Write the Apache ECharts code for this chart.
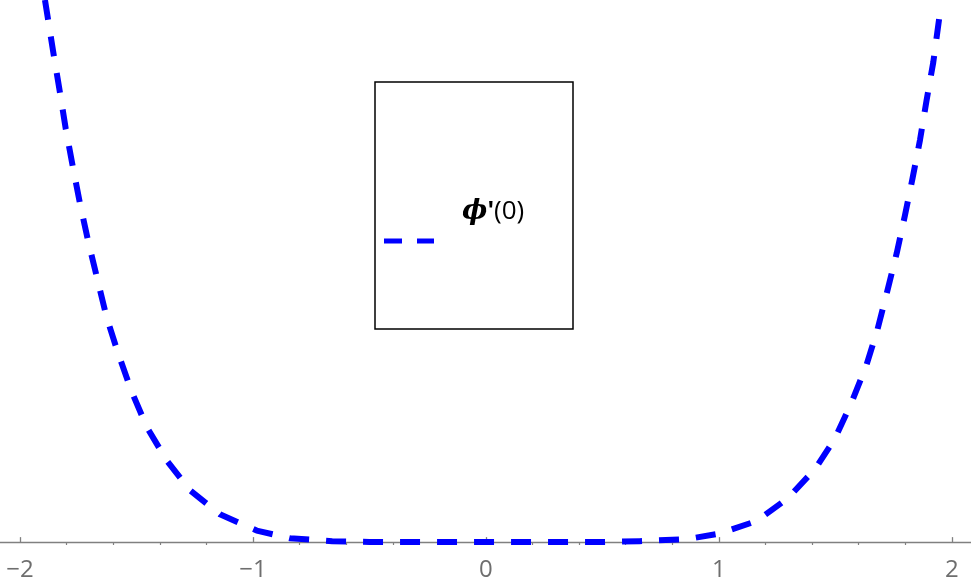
<!DOCTYPE html>
<html>
<head>
<meta charset="utf-8">
<script src="https://cdn.jsdelivr.net/npm/echarts@6/dist/echarts.min.js"></script>
<style>
html,body{margin:0;padding:0;background:#fff;}
#chart{width:971px;height:583px;}
</style>
</head>
<body>
<div id="chart"></div>
<script>
// x positions and values
const xValues = [-1.893, -1.857, -1.831, -1.804, -1.774, -1.742, -1.707, -1.668, -1.628, -1.578,
  -1.521, -1.456, -1.370, -1.270, -1.142, -0.984, -0.841, -0.66, -0.5, 0,
  0.5, 0.66, 0.861, 1.004, 1.162, 1.297, 1.412, 1.498, 1.570, 1.634,
  1.681, 1.722, 1.763, 1.798, 1.831, 1.863, 1.891, 1.920, 1.950];
const yValues = [56.5, 51.0, 47.2, 43.1, 39.2, 35.2, 31.3, 27.4, 23.4, 19.6,
  15.7, 12.0, 8.5, 5.4, 2.9, 1.2, 0.4, 0.1, 0.02, 0,
  0.02, 0.1, 0.3, 0.9, 2.2, 4.6, 7.6, 10.8, 14.6, 18.5,
  22.2, 26.1, 30.1, 34.0, 37.9, 41.9, 46.0, 50.0, 55.4];
const majorTicks = [-2, -1, 0, 1, 2];
const minorTicks = [-1.8, -1.6, -1.4, -1.2, -0.8, -0.6, -0.4, -0.2, 0.2, 0.4, 0.6, 0.8, 1.2, 1.4, 1.6, 1.8];
const seriesName = "ϕ'(0)";

const chart = echarts.init(document.getElementById('chart'));
const points = xValues.map((x, i) => [x, yValues[i]]);
const xMin = -2.086, xMax = 2.082;
const axisGray = '#808080';

chart.setOption({
  animation: false,
  grid: {left: 0, right: 0, top: 0, bottom: 38, containLabel: false},
  xAxis: [{
    type: 'value', min: xMin, max: xMax, position: 'bottom',
    axisLine: {show: true, onZero: true, lineStyle: {color: axisGray, width: 1.3}},
    axisTick: {show: true, inside: true, length: 5, customValues: majorTicks, lineStyle: {color: axisGray, width: 1.3}},
    axisLabel: {show: true, customValues: majorTicks, margin: 13, color: '#6e6e6e', fontSize: 24, fontFamily: 'Open Sans',
      formatter: v => (v < 0 ? '\u2212' + Math.abs(v) : String(v))},
    splitLine: {show: false}
  }, {
    type: 'value', min: xMin, max: xMax, position: 'bottom',
    axisLine: {show: false, onZero: true},
    axisTick: {show: true, inside: true, length: 3, customValues: minorTicks, lineStyle: {color: axisGray, width: 1.2}},
    axisLabel: {show: false},
    splitLine: {show: false}
  }],
  yAxis: {type: 'value', min: -0.3, max: 56.5, show: false, splitLine: {show: false}},
  series: [{
    name: seriesName, type: 'line', xAxisIndex: 0, data: points,
    showSymbol: false, smooth: false,
    lineStyle: {color: '#0000ff', width: 6, type: [20, 17], cap: 'butt', join: 'round'}
  }],
  graphic: [
    {type: 'rect', shape: {x: 375, y: 82, width: 198, height: 247},
      style: {fill: null, stroke: '#000', lineWidth: 1.5}},
    {type: 'line', shape: {x1: 384, y1: 241, x2: 434, y2: 241},
      style: {stroke: '#0000ff', lineWidth: 5, lineDash: [18, 15]}},
    {type: 'text', x: 462, y: 212,
      style: {
        text: '{p|ϕ}{b|\'}{n|(0)}',
        verticalAlign: 'middle', align: 'left',
        rich: {
          p: {fontSize: 27, fontStyle: 'italic', fontWeight: 'bold', fontFamily: 'DejaVu Serif', fill: '#000'},
          b: {fontSize: 25, fontWeight: 'bold', fontFamily: 'Open Sans', fill: '#000'},
          n: {fontSize: 26, fontWeight: 'normal', fontFamily: 'Open Sans', fill: '#000'}
        }
      }}
  ]
});
</script>
</body>
</html>
